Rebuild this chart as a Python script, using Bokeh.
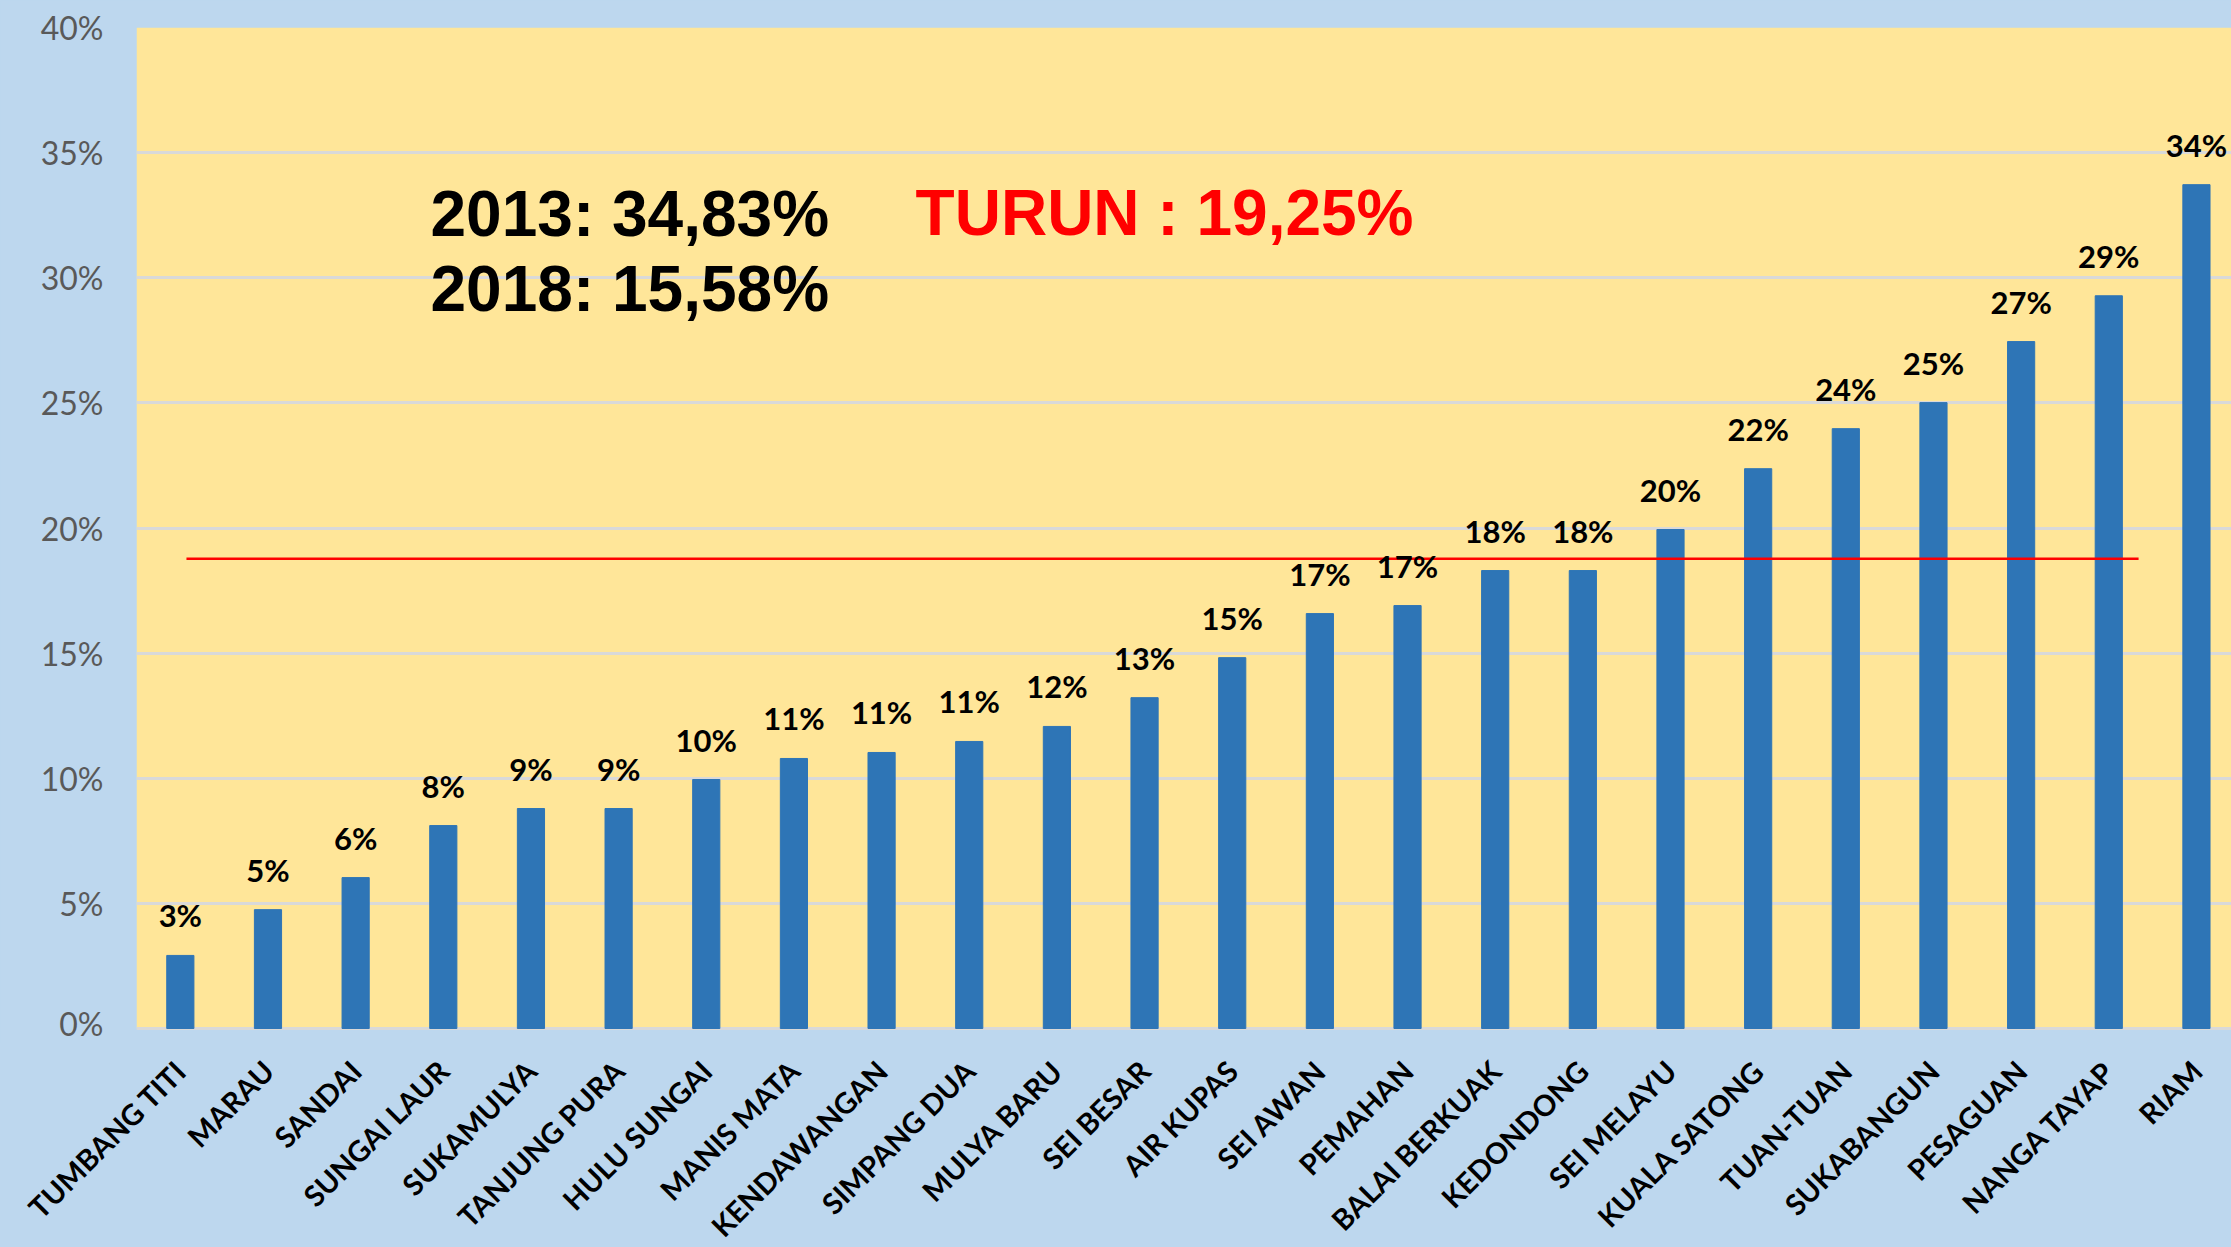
from math import pi
from bokeh.plotting import figure
from bokeh.layouts import column
from bokeh.models import (ColumnDataSource, Range1d, FixedTicker, NumeralTickFormatter,
                          LabelSet, Label)
from bokeh.core.properties import value
from bokeh.embed import file_html
from bokeh.resources import INLINE

# ---- data -------------------------------------------------------------
kecamatan = ["TUMBANG TITI", "MARAU", "SANDAI", "SUNGAI LAUR", "SUKAMULYA",
             "TANJUNG PURA", "HULU SUNGAI", "MANIS MATA", "KENDAWANGAN",
             "SIMPANG DUA", "MULYA BARU", "SEI BESAR", "AIR KUPAS", "SEI AWAN",
             "PEMAHAN", "BALAI BERKUAK", "KEDONDONG", "SEI MELAYU",
             "KUALA SATONG", "TUAN-TUAN", "SUKABANGUN", "PESAGUAN",
             "NANGA TAYAP", "RIAM"]
nilai = [0.0292, 0.0475, 0.0603, 0.0811, 0.0879, 0.0879, 0.0995, 0.1079,
         0.1103, 0.1147, 0.1207, 0.1322, 0.1482, 0.1658, 0.1690, 0.1830,
         0.1830, 0.1994, 0.2237, 0.2397, 0.2501, 0.2745, 0.2928, 0.3372]
label_nilai = ["3%", "5%", "6%", "8%", "9%", "9%", "10%", "11%", "11%", "11%",
               "12%", "13%", "15%", "17%", "17%", "18%", "18%", "20%", "22%",
               "24%", "25%", "27%", "29%", "34%"]
y_ticks = [0.0, 0.05, 0.10, 0.15, 0.20, 0.25, 0.30, 0.35, 0.40]
garis_rata = 0.1877          # red reference line value
teks_2013 = "2013: 34,83%"
teks_2018 = "2018: 15,58%"
teks_turun = "TURUN : 19,25%"

# ---- layout constants (pixels) ---------------------------------------
W, H = 2231, 1247
LEFT, TOP = 136, 27
AXIS_Y = 1028                 # pixel row of the 0 % line
H1 = 1042                     # height of the main chart
X_END = 23.9                  # categories visible across the frame
LABEL_GAP = 37                # distance of the name anchors below the 0 % line
BLUE, YELLOW = "#BDD7EE", "#FFE699"

px_per_x = (W - LEFT) / X_END
px_per_y = (AXIS_Y - TOP) / 0.40
y_start = -(H1 - AXIS_Y) / px_per_y

xs = [i + 0.5 for i in range(len(kecamatan))]
src = ColumnDataSource(dict(x=xs, nilai=nilai, label=label_nilai,
                            nama=kecamatan))

# ---- main chart -------------------------------------------------------
p = figure(width=W, height=H1, x_range=Range1d(0, X_END),
           y_range=Range1d(y_start, 0.40), output_backend="svg",
           toolbar_location=None, min_border_left=LEFT, min_border_top=TOP,
           min_border_bottom=0, min_border_right=0)
p.frame_align = False
p.background_fill_color = BLUE
p.border_fill_color = BLUE
p.outline_line_color = None

# plot area (yellow) between 0 % and 40 %
p.quad(left=0, right=X_END, bottom=0, top=0.40, fill_color=YELLOW,
       line_color=None, level="image")

p.xgrid.grid_line_color = None
p.ygrid.grid_line_color = "#D9D9D9"
p.ygrid.grid_line_width = 3
p.ygrid.ticker = FixedTicker(ticks=y_ticks)

p.vbar(x="x", top="nilai", width=0.31, source=src, color="#2E75B6")

# red reference line
p.line(x=[0.57, 22.84], y=[garis_rata, garis_rata], line_color="#FF0000",
       line_width=2.5)

ya = p.yaxis[0]
ya.ticker = FixedTicker(ticks=y_ticks)
ya.formatter = NumeralTickFormatter(format="0%")
ya.axis_line_color = None
ya.major_tick_line_color = None
ya.minor_tick_line_color = None
ya.major_tick_out = 0
ya.major_tick_in = 0
ya.minor_tick_out = 0
ya.major_label_text_font = "Lato"
ya.major_label_text_font_size = "32px"
ya.major_label_text_color = "#595959"
ya.major_label_standoff = 33
p.xaxis.visible = False

# data labels
p.add_layout(LabelSet(x="x", y="nilai", text="label", source=src,
                      text_align="center", text_baseline="alphabetic",
                      y_offset=28, text_font=value("Lato"),
                      text_font_style="bold", text_font_size="31px",
                      text_color="#000000"))

# annotations
for txt, x, y, col in [(teks_2013, 3.354, 0.3256, "#000000"),
                       (teks_2018, 3.354, 0.2957, "#000000"),
                       (teks_turun, 8.888, 0.3260, "#FF0000")]:
    p.add_layout(Label(x=x, y=y, text=txt, text_color=col,
                       text_font="Liberation Sans", text_font_style="bold",
                       text_font_size="64px", text_baseline="alphabetic",
                       text_align="left"))

# ---- category axis (rotated names) -----------------------------------
H2 = H - H1
q = figure(width=W, height=H2, x_range=Range1d(-LEFT / px_per_x, X_END),
           y_range=Range1d(-H2, 0), output_backend="svg",
           toolbar_location=None, min_border=0)
q.frame_align = False
q.background_fill_color = BLUE
q.border_fill_color = BLUE
q.outline_line_color = None
q.axis.visible = False
q.grid.grid_line_color = None
q.text(x="x", y=-(LABEL_GAP - (H1 - AXIS_Y)), text="nama", source=src,
       angle=pi / 4, text_align="right", text_baseline="middle",
       text_font=value("Lato"), text_font_style="bold",
       text_font_size="29px", text_color="#000000")

layout = column(p, q, spacing=0, styles={"background-color": BLUE})
open("out.html", "w").write(file_html(layout, INLINE))
